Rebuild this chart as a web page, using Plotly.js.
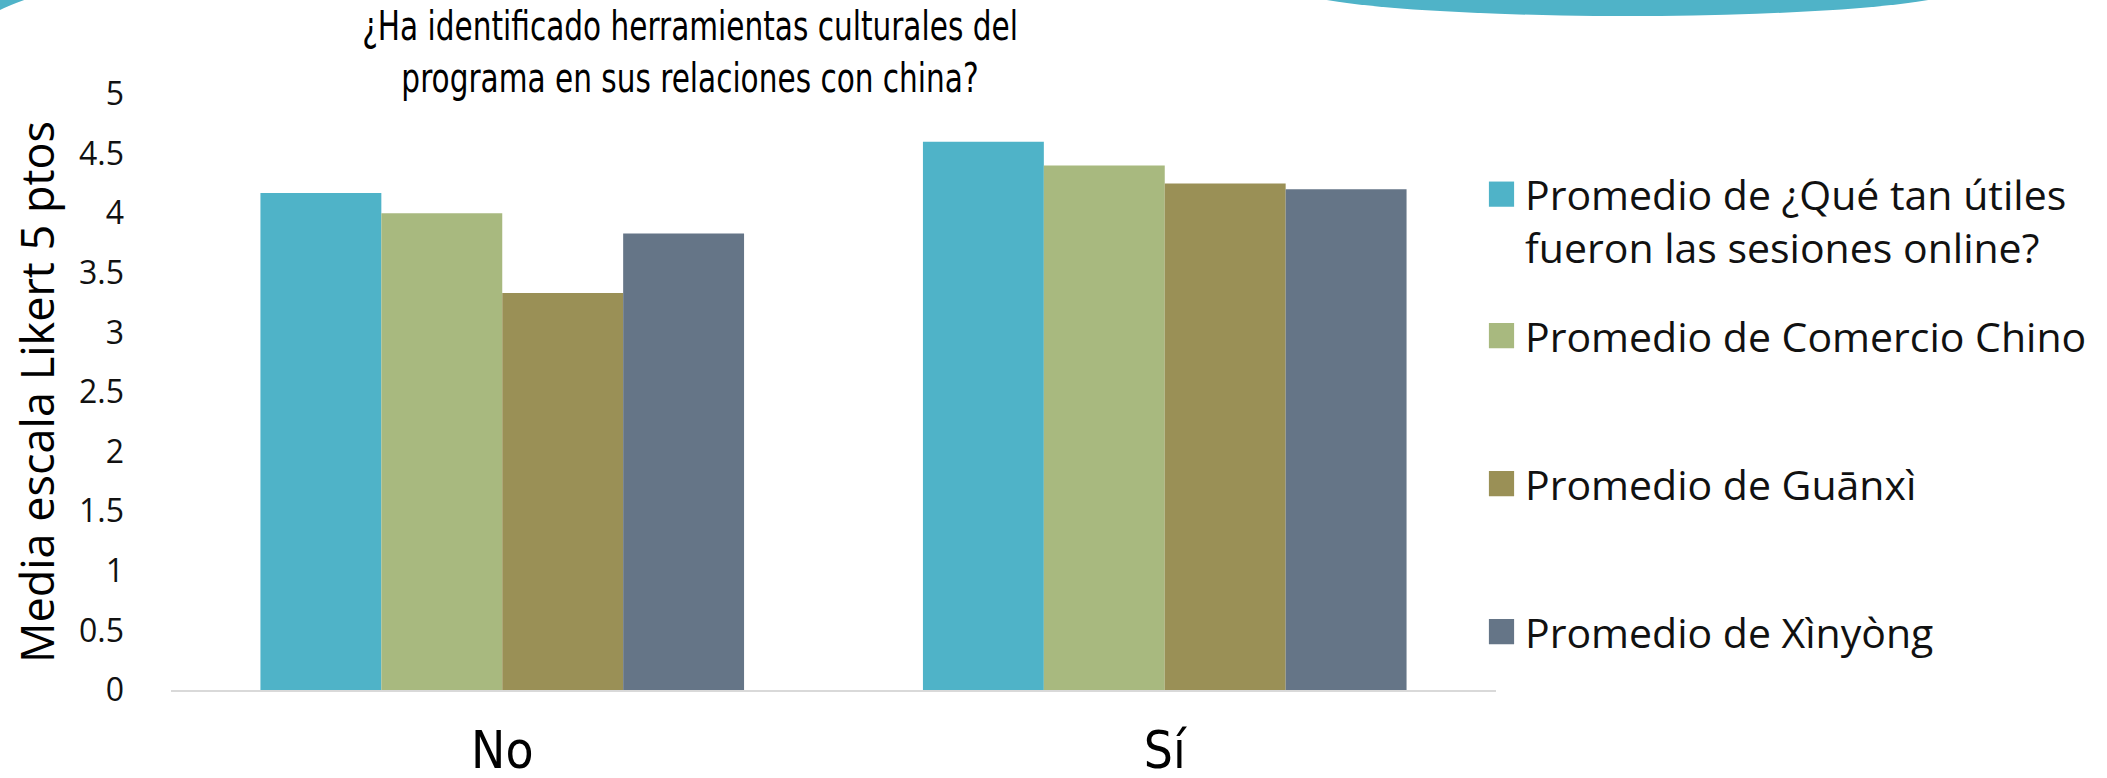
<!DOCTYPE html>
<html>
<head>
<meta charset="utf-8">
<script src="https://cdn.plot.ly/plotly-3.0.1.min.js"></script>
<style>
  html, body { margin: 0; padding: 0; background: #ffffff; }
  #chart { width: 2107px; height: 778px; }
</style>
</head>
<body>
<div id="chart"></div>
<script>
// ---- data ----
const categories = ['No', 'Sí'];
const seriesNames = [
  'Promedio de ¿Qué tan útiles<br>fueron las sesiones online?',
  'Promedio de Comercio Chino',
  'Promedio de Guānxì',
  'Promedio de Xìnyòng'
];
const utilesValues   = [4.17, 4.60];
const comercioValues = [4.00, 4.40];
const guanxiValues   = [3.33, 4.25];
const xinyongValues  = [3.83, 4.20];
const yTickValues = [0, 0.5, 1, 1.5, 2, 2.5, 3, 3.5, 4, 4.5, 5];
const yTickLabels = ['0', '0.5', '1', '1.5', '2', '2.5', '3', '3.5', '4', '4.5', '5'];
const chartTitle = '¿Ha identificado herramientas culturales del<br>programa en sus relaciones con china?';
const yTitle = 'Media escala Likert 5 ptos';

// ---- style ----
const colors = ['#4FB3C8', '#A8B97F', '#9A9056', '#657587'];
const W = 2107, H = 778;
const M = { l: 171, r: 611, t: 94, b: 88 };
const plotW = W - M.l - M.r, plotH = H - M.t - M.b;
const px = x => (x - M.l) / plotW;
const py = y => (H - M.b - y) / plotH;

const seriesValues = [utilesValues, comercioValues, guanxiValues, xinyongValues];
const legendIds = ['legend', 'legend2', 'legend3', 'legend4'];
const legendCentersPx = [221, 336, 484, 632];

const traces = seriesValues.map((vals, i) => ({
  type: 'bar',
  name: seriesNames[i],
  x: categories,
  y: vals,
  marker: { color: colors[i], line: { width: 0 } },
  legend: legendIds[i],
  hoverinfo: 'skip'
}));

const condensed = 'DejaVu Sans Condensed, Liberation Sans Narrow, sans-serif';
const legendFont = { family: 'Open Sans, Noto Sans, sans-serif', size: 41, color: '#111111' };
const layout = {
  width: W, height: H,
  margin: M,
  paper_bgcolor: '#ffffff',
  plot_bgcolor: '#ffffff',
  barmode: 'group',
  bargap: 0.27,
  bargroupgap: 0,
  showlegend: true,
  title: {
    text: chartTitle,
    font: { family: condensed, size: 40, color: '#000000' },
    xref: 'container', x: 690 / W, xanchor: 'center',
    yref: 'container', y: 1 - 40 / H, yanchor: 'middle'
  },
  xaxis: {
    type: 'category',
    showline: true, linecolor: '#D9D9D9', linewidth: 2,
    showgrid: false, zeroline: false, ticks: '',
    tickfont: { family: condensed, size: 51, color: '#000000' },
    ticklabelstandoff: 15,
    fixedrange: true
  },
  yaxis: {
    range: [0, 5],
    tickvals: yTickValues, ticktext: yTickLabels,
    showline: false, showgrid: false, zeroline: false, ticks: '',
    tickfont: { family: 'Open Sans, Noto Sans, sans-serif', size: 32, color: '#111111' },
    ticklabelstandoff: 46,
    title: {
      text: yTitle,
      font: { family: 'Open Sans, Noto Sans, sans-serif', size: 45, color: '#000000' },
      standoff: 10
    },
    fixedrange: true
  },
  shapes: [
    {
      type: 'circle', xref: 'paper', yref: 'paper', layer: 'below',
      x0: px(1290), x1: px(1965), y0: py(-42.6), y1: py(16),
      fillcolor: '#4FB3C8', line: { width: 0 }
    },
    {
      type: 'path', xref: 'paper', yref: 'paper', layer: 'below',
      path: 'M' + px(0) + ',' + py(-1) + ' L' + px(27) + ',' + py(-1) +
            ' Q' + px(10) + ',' + py(5) + ' ' + px(0) + ',' + py(10) + ' Z',
      fillcolor: '#4FB3C8', line: { width: 0 }
    }
  ]
};

legendIds.forEach((id, i) => {
  layout[id] = {
    x: px(1478), xanchor: 'left',
    y: py(legendCentersPx[i]), yanchor: 'middle',
    valign: 'top',
    font: legendFont,
    bgcolor: 'rgba(0,0,0,0)',
    borderwidth: 0,
    itemwidth: 37,
    itemclick: false, itemdoubleclick: false
  };
});

Plotly.newPlot('chart', traces, layout, { displayModeBar: false, staticPlot: true }).then(gd => {
  // enlarge legend swatches
  gd.querySelectorAll('.legendpoints path').forEach(p => {
    const t = p.getAttribute('transform') || '';
    p.setAttribute('transform', t + ' scale(2.1)');
  });
  // condense the title horizontally, as in the reference
  const tEl = gd.querySelector('.gtitle');
  if (tEl) {
    const bb = tEl.getBBox();
    const cx = bb.x + bb.width / 2;
    const s = 656 / bb.width;
    const t = tEl.getAttribute('transform') || '';
    tEl.setAttribute('transform', t + ' translate(' + cx + ',0) scale(' + s + ',1) translate(' + (-cx) + ',0)');
  }
});
</script>
</body>
</html>
